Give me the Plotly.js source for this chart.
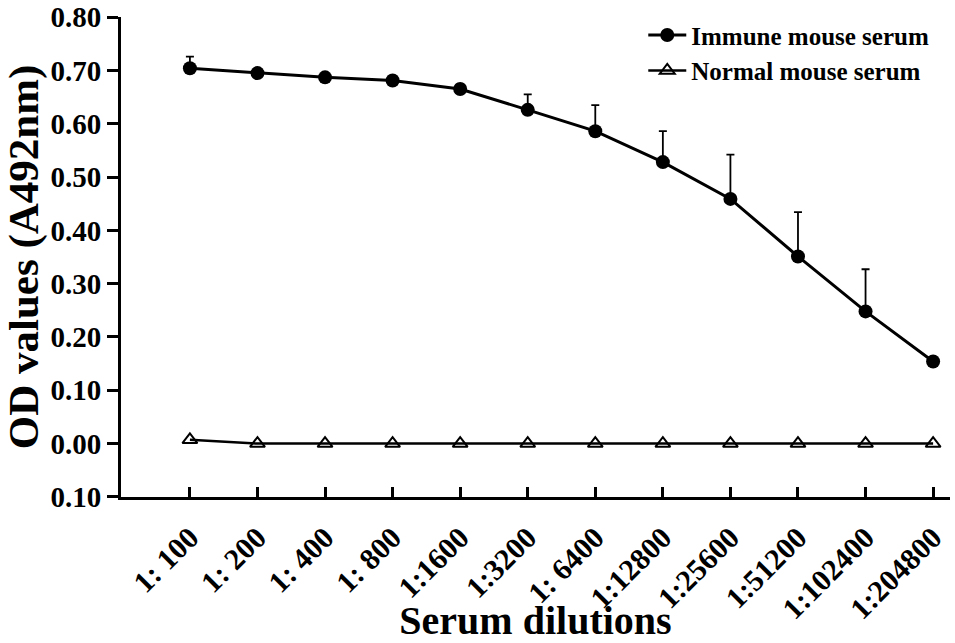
<!DOCTYPE html>
<html>
<head>
<meta charset="utf-8">
<script src="https://cdn.plot.ly/plotly-3.0.1.min.js"></script>
<style>
  html, body { margin: 0; padding: 0; background: #fff; }
  #chart { width: 955px; height: 643px; }
</style>
</head>
<body>
<div id="chart"></div>
<script>
const dilutions = ['1: 100', '1: 200', '1: 400', '1: 800', '1:1600', '1:3200', '1: 6400', '1:12800', '1:25600', '1:51200', '1:102400', '1:204800']
const immune = [0.704, 0.695, 0.687, 0.681, 0.665, 0.626, 0.586, 0.528, 0.459, 0.351, 0.248, 0.154]
const immuneErr = [0.022, 0.004, 0.003, 0.003, 0.009, 0.029, 0.049, 0.058, 0.083, 0.083, 0.079, 0.004]
const normal = [0.007, 0, 0, 0, 0, 0, 0, 0, 0, 0, 0, 0]
const yTicks = [-0.1, 0, 0.1, 0.2, 0.3, 0.4, 0.5, 0.6, 0.7, 0.8]
const yTickText = ['0.10', '0.00', '0.10', '0.20', '0.30', '0.40', '0.50', '0.60', '0.70', '0.80']

const serif = '"Liberation Serif", "Times New Roman", serif'
const bold = size => ({ family: serif, size, weight: 700, color: '#000' })

const traces = [
  {
    x: dilutions,
    y: immune,
    name: 'Immune mouse serum',
    type: 'scatter',
    mode: 'lines+markers',
    line: { color: '#000', width: 3 },
    marker: { symbol: 'circle', size: 14, color: '#000' },
    error_y: {
      type: 'data',
      symmetric: false,
      array: immuneErr,
      arrayminus: immuneErr.map(() => 0),
      color: '#000',
      thickness: 1.8,
      width: 4,
    },
  },
  {
    x: dilutions,
    y: normal,
    name: 'Normal mouse serum',
    type: 'scatter',
    mode: 'lines+markers',
    line: { color: '#000', width: 2.5 },
    marker: { symbol: 'triangle-up-open', size: 13, color: '#000', line: { width: 2, color: '#000' } },
  },
]

const layout = {
  width: 955,
  height: 643,
  margin: { l: 121, r: 5, t: 17, b: 146 },
  paper_bgcolor: '#fff',
  plot_bgcolor: '#fff',
  font: bold(20),
  showlegend: true,
  legend: {
    x: 0.63,
    y: 1.01,
    xanchor: 'left',
    yanchor: 'top',
    itemwidth: 38,
    bgcolor: 'rgba(0,0,0,0)',
    font: bold(25),
    tracegroupgap: 0,
  },
  xaxis: {
    type: 'category',
    range: [-1.02, 11.25],
    showline: true,
    linewidth: 3,
    linecolor: '#000',
    showgrid: false,
    zeroline: false,
    ticks: 'inside',
    ticklen: 10,
    tickwidth: 3,
    tickcolor: '#000',
    tickangle: -45,
    ticklabelstandoff: 8,
    tickfont: bold(30),
    title: { text: 'Serum dilutions', font: bold(40), standoff: 2 },
  },
  yaxis: {
    range: [-0.1002, 0.8002],
    showline: true,
    linewidth: 3,
    linecolor: '#000',
    showgrid: false,
    zeroline: false,
    ticks: 'outside',
    ticklen: 11,
    tickwidth: 3,
    tickcolor: '#000',
    tickvals: yTicks,
    ticktext: yTickText,
    ticklabeloverflow: 'allow',
    tickfont: bold(29),
    title: { text: 'OD values (A492nm)', font: bold(43), standoff: 0 },
  },
}

Plotly.newPlot('chart', traces, layout, { displayModeBar: false, staticPlot: true })
</script>
</body>
</html>
